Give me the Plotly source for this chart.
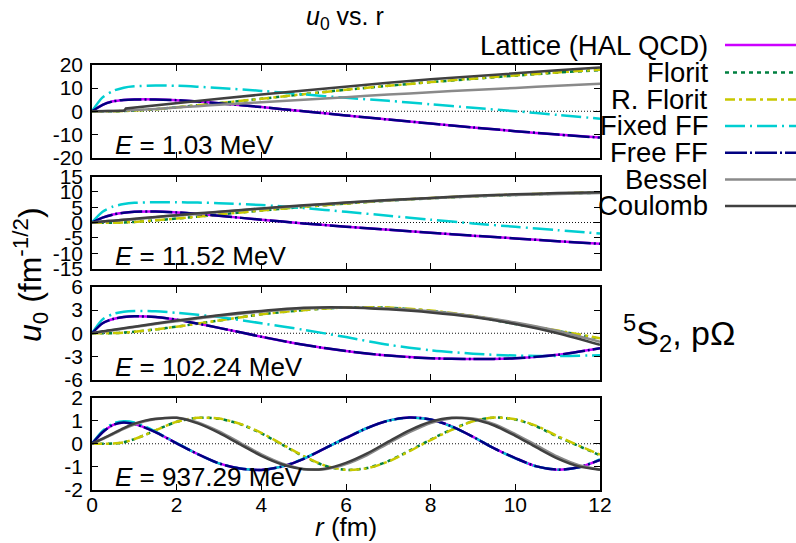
import plotly.graph_objects as go

# ---------------------------------------------------------------- data
# radial grids (fm)
r_main = [0, 0.25, 0.5, 0.75, 1, 1.5, 2, 2.5, 3, 4, 5, 6, 7, 8, 9, 10, 11, 12]
r_fine = [0, 0.25, 0.5, 0.75, 1, 1.25, 1.5, 2, 2.5, 3, 3.5, 4, 4.5, 5, 5.5, 6,
          6.5, 7, 7.5, 8, 8.5, 9, 9.5, 10, 10.5, 11, 11.5, 12]
r_coul_low = [0, 0.5, 0.76, 0.8, 1, 1.5, 2, 2.5, 3, 4, 5, 6, 7, 8, 9, 10, 11, 12]

energies = ["1.03", "11.52", "102.24", "937.29"]
series_names = ["Lattice (HAL QCD)", "Florit", "R. Florit", "Fixed FF",
                "Free FF", "Bessel", "Coulomb"]

# E = 1.03 MeV
lattice_1 = [0, 2.8, 4.3, 4.9, 5.1, 5.1, 4.8, 4.2, 3.5, 1.8, 0.0, -1.8, -3.6, -5.3, -7.0, -8.6, -10.1, -11.4]
florit_1 = [0, 0.0, 0.02, 0.1, 0.3, 0.9, 1.7, 2.6, 3.5, 5.4, 7.4, 9.3, 11.0, 12.6, 14.0, 15.4, 16.7, 17.8]
rflorit_1 = [0, 0.0, 0.02, 0.1, 0.3, 0.9, 1.7, 2.6, 3.5, 5.4, 7.4, 9.3, 11.0, 12.6, 14.1, 15.5, 16.8, 18.0]
fixed_ff_1 = [0, 6.0, 8.8, 10.2, 10.8, 11.1, 11.0, 10.6, 10.1, 8.8, 7.3, 5.8, 4.5, 3.0, 1.5, 0.0, -1.6, -3.2]
free_ff_1 = [0, 2.8, 4.3, 4.9, 5.1, 5.1, 4.8, 4.2, 3.5, 1.8, 0.0, -1.8, -3.6, -5.3, -7.0, -8.6, -10.1, -11.4]
bessel_1 = [0, 0.05, 0.15, 0.3, 0.5, 1.0, 1.6, 2.2, 2.8, 3.9, 5.0, 6.1, 7.2, 8.2, 9.2, 10.1, 11.0, 11.9]
coulomb_1 = [0, 0.1, 0.2, 1.2, 1.6, 2.55, 3.5, 4.45, 5.4, 7.2, 9.0, 10.7, 12.3, 13.8, 15.2, 16.5, 17.7, 18.9]

# E = 11.52 MeV
lattice_2 = [0, 1.6, 2.6, 3.2, 3.5, 3.6, 3.3, 2.8, 2.2, 0.9, -0.3, -1.35, -2.35, -3.35, -4.3, -5.2, -6.1, -6.95]
florit_2 = [0, -0.05, -0.1, 0.0, 0.2, 0.7, 1.3, 1.9, 2.6, 3.9, 5.1, 6.2, 7.1, 7.9, 8.5, 9.0, 9.4, 9.7]
rflorit_2 = [0, -0.05, -0.1, 0.0, 0.2, 0.7, 1.3, 1.9, 2.6, 3.9, 5.1, 6.2, 7.2, 8.0, 8.6, 9.1, 9.5, 9.8]
fixed_ff_2 = [0, 3.5, 5.2, 6.0, 6.4, 6.6, 6.6, 6.5, 6.3, 5.7, 4.7, 3.5, 2.2, 0.9, -0.3, -1.4, -2.5, -3.6]
free_ff_2 = [0, 1.6, 2.6, 3.2, 3.5, 3.6, 3.3, 2.8, 2.2, 0.9, -0.3, -1.35, -2.35, -3.35, -4.3, -5.2, -6.1, -6.95]
bessel_2 = [0, 0.3, 0.6, 0.9, 1.1, 1.7, 2.3, 2.8, 3.4, 4.5, 5.5, 6.4, 7.2, 7.9, 8.5, 9.0, 9.3, 9.6]
coulomb_2 = [0, 0.3, 0.6, 0.9, 1.2, 1.8, 2.4, 3.0, 3.5, 4.6, 5.6, 6.5, 7.3, 8.0, 8.7, 9.2, 9.6, 9.9]

# E = 102.24 MeV
lattice_3 = [0, 1.3, 1.85, 2.1, 2.2, 2.1, 1.75, 1.25, 0.7, -0.45, -1.5, -2.3, -2.9, -3.25, -3.35, -3.25, -2.8, -1.95]
florit_3 = [0, 0.0, 0.02, 0.08, 0.2, 0.5, 0.85, 1.25, 1.65, 2.45, 3.0, 3.35, 3.3, 2.9, 2.2, 1.2, 0.3, -0.7]
rflorit_3 = [0, 0.0, 0.02, 0.08, 0.2, 0.5, 0.85, 1.25, 1.65, 2.45, 3.0, 3.35, 3.35, 2.95, 2.25, 1.3, 0.35, -0.65]
fixed_ff_3 = [0, 1.8, 2.5, 2.8, 2.9, 2.85, 2.65, 2.4, 2.1, 1.3, 0.45, -0.5, -1.5, -2.2, -2.65, -2.9, -2.95, -2.85]
free_ff_3 = [0, 1.3, 1.85, 2.1, 2.2, 2.1, 1.75, 1.25, 0.7, -0.45, -1.5, -2.3, -2.9, -3.25, -3.35, -3.25, -2.8, -1.95]
bessel_3 = [0, 0.2, 0.4, 0.6, 0.8, 1.2, 1.55, 1.9, 2.25, 2.8, 3.2, 3.35, 3.2, 2.85, 2.25, 1.4, 0.3, -1.1]
coulomb_3 = [0, 0.25, 0.45, 0.65, 0.85, 1.25, 1.65, 2.0, 2.35, 2.9, 3.3, 3.35, 3.1, 2.7, 2.1, 1.2, 0.0, -1.5]

# E = 937.29 MeV
lattice_4 = [0, 0.5, 0.82, 0.92, 0.85, 0.7, 0.5, 0.02, -0.45, -0.85, -1.07, -1.13, -0.98, -0.65,
             -0.2, 0.25, 0.68, 1.0, 1.13, 1.05, 0.75, 0.3, -0.2, -0.62, -0.98, -1.12, -1.02, -0.7]
florit_4 = [0, 0.0, 0.01, 0.06, 0.2, 0.38, 0.58, 0.95, 1.12, 1.08, 0.85, 0.45, -0.05, -0.55,
            -0.95, -1.13, -1.05, -0.75, -0.3, 0.18, 0.62, 0.98, 1.13, 1.05, 0.75, 0.3, -0.1, -0.5]
rflorit_4 = [0, 0.0, 0.01, 0.06, 0.2, 0.38, 0.58, 0.95, 1.12, 1.09, 0.86, 0.47, -0.03, -0.53,
             -0.94, -1.13, -1.06, -0.77, -0.32, 0.16, 0.6, 0.97, 1.13, 1.06, 0.77, 0.33, -0.08, -0.47]
fixed_ff_4 = [0, 0.55, 0.88, 0.97, 0.92, 0.75, 0.52, 0.03, -0.45, -0.85, -1.07, -1.13, -0.98, -0.64,
              -0.2, 0.26, 0.68, 1.0, 1.13, 1.05, 0.74, 0.3, -0.2, -0.63, -0.98, -1.12, -1.02, -0.68]
free_ff_4 = [0, 0.5, 0.82, 0.92, 0.85, 0.7, 0.5, 0.02, -0.45, -0.85, -1.07, -1.13, -0.98, -0.65,
             -0.2, 0.25, 0.68, 1.0, 1.13, 1.05, 0.75, 0.3, -0.2, -0.62, -0.98, -1.12, -1.02, -0.7]
bessel_4 = [0, 0.2, 0.42, 0.64, 0.83, 0.97, 1.06, 1.12, 0.92, 0.53, 0.04, -0.46, -0.86, -1.09,
            -1.1, -0.88, -0.49, 0.02, 0.5, 0.9, 1.1, 1.09, 0.85, 0.42, -0.07, -0.56, -0.93, -1.11]
coulomb_4 = [0, 0.22, 0.45, 0.68, 0.87, 1.0, 1.08, 1.12, 0.88, 0.47, -0.03, -0.52, -0.9, -1.1,
             -1.08, -0.83, -0.42, 0.09, 0.58, 0.95, 1.12, 1.06, 0.79, 0.34, -0.16, -0.64, -0.98, -1.12]

y_ranges = [[-20, 20], [-15, 15], [-6, 6], [-2, 2]]
y_ticks = [[-20, -10, 0, 10, 20], [-15, -10, -5, 0, 5, 10, 15], [-6, -3, 0, 3, 6], [-2, -1, 0, 1, 2]]
x_ticks = [0, 2, 4, 6, 8, 10, 12]

# ---------------------------------------------------------------- styles
FONT = "Liberation Sans, Arial, sans-serif"
W, H = 796, 543
styles = [
    dict(color="#cc00ff", dash="solid"),                 # Lattice
    dict(color="#008040", dash="4px,4px"),               # Florit
    dict(color="#c8c800", dash="10px,4px,3px,4px"),      # R. Florit
    dict(color="#00ced1", dash="20px,5px,2px,5px"),      # Fixed FF
    dict(color="#000080", dash="22px,3px,2px,3px"),      # Free FF
    dict(color="#8a8a8a", dash="solid"),                 # Bessel
    dict(color="#404040", dash="solid"),                 # Coulomb
]
LW = 2.5

panels = [
    (r_main, [lattice_1, florit_1, rflorit_1, fixed_ff_1, free_ff_1, bessel_1, coulomb_1]),
    (r_main, [lattice_2, florit_2, rflorit_2, fixed_ff_2, free_ff_2, bessel_2, coulomb_2]),
    (r_main, [lattice_3, florit_3, rflorit_3, fixed_ff_3, free_ff_3, bessel_3, coulomb_3]),
    (r_fine, [lattice_4, florit_4, rflorit_4, fixed_ff_4, free_ff_4, bessel_4, coulomb_4]),
]

# panel frames in pixels (top, bottom) and shared horizontal extent
px_left, px_right = 92, 600
px_rows = [(65, 157.5), (176.5, 268.5), (287, 379.5), (397.5, 490)]


def tick_text(vals):
    # plain hyphen-minus for negative numbers
    return [str(v) for v in vals]


fig = go.Figure()

for i, (rgrid, curves) in enumerate(panels):
    n = i + 1
    xa = "x" if n == 1 else f"x{n}"
    ya = "y" if n == 1 else f"y{n}"
    # dotted zero reference
    fig.add_trace(go.Scatter(x=[0, 12], y=[0, 0], mode="lines", xaxis=xa, yaxis=ya,
                             line=dict(color="#111111", width=1, dash="1px,2px"),
                             showlegend=False, hoverinfo="skip"))
    for k, (vals, st) in enumerate(zip(curves, styles)):
        xs = rgrid
        shape = "spline"
        if i == 0 and k == 6:
            xs = r_coul_low
            shape = "linear"
        fig.add_trace(go.Scatter(x=xs, y=vals, mode="lines", xaxis=xa, yaxis=ya,
                                 name=series_names[k], showlegend=False,
                                 line=dict(color=st["color"], width=LW, dash=st["dash"],
                                           shape=shape, smoothing=0.8)))

layout = dict(
    width=W, height=H, autosize=False,
    margin=dict(l=0, r=0, t=0, b=0, pad=0),
    paper_bgcolor="white", plot_bgcolor="white",
    font=dict(family=FONT, color="black"),
    showlegend=False,
)

axis_common = dict(showline=True, linecolor="black", linewidth=1.5, mirror="ticks",
                   ticks="inside", ticklen=6, tickwidth=1.2, tickcolor="black",
                   showgrid=False, zeroline=False, automargin=False,
                   tickfont=dict(family=FONT, size=21, color="black"))

for i in range(4):
    n = i + 1
    top, bot = px_rows[i]
    xkey = "xaxis" if n == 1 else f"xaxis{n}"
    ykey = "yaxis" if n == 1 else f"yaxis{n}"
    layout[xkey] = dict(axis_common, domain=[px_left / W, px_right / W],
                        anchor="y" if n == 1 else f"y{n}",
                        range=[0, 12], tickvals=x_ticks, ticktext=tick_text(x_ticks),
                        showticklabels=(n == 4), ticklabelstandoff=-5)
    layout[ykey] = dict(axis_common, domain=[1 - bot / H, 1 - top / H],
                        anchor="x" if n == 1 else f"x{n}",
                        range=y_ranges[i], tickvals=y_ticks[i],
                        ticktext=tick_text(y_ticks[i]), ticklabelstandoff=3)

fig.update_layout(**layout)

annotations = []
# energy labels inside each panel
for i, e in enumerate(energies):
    n = i + 1
    annotations.append(dict(
        text=f"<i>E</i> = {e} MeV", xref=("x" if n == 1 else f"x{n}") + " domain",
        yref=("y" if n == 1 else f"y{n}") + " domain", x=0.042, y=-0.045,
        xanchor="left", yanchor="bottom", showarrow=False,
        font=dict(family=FONT, size=26, color="black")))

# title and axis titles
annotations.append(dict(text="<i>u</i><sub>0</sub> vs. r", xref="paper", yref="paper",
                        x=345 / W, y=1 - 18 / H, xanchor="center", yanchor="middle",
                        showarrow=False, font=dict(family=FONT, size=25)))
annotations.append(dict(text="<i>r</i> (fm)", xref="paper", yref="paper",
                        x=346 / W, y=1 - 527 / H, xanchor="center", yanchor="middle",
                        showarrow=False, font=dict(family=FONT, size=26)))
annotations.append(dict(text="<i>u</i><sub>0</sub> (fm<sup>-1/2</sup>)", xref="paper", yref="paper",
                        x=30 / W, y=1 - 275 / H, xanchor="center", yanchor="middle",
                        textangle=-90, showarrow=False, font=dict(family=FONT, size=32)))
annotations.append(dict(text="<sup>5</sup>S<sub>2</sub>, pΩ", xref="paper", yref="paper",
                        x=621 / W, y=1 - 333 / H, xanchor="left", yanchor="middle",
                        showarrow=False, font=dict(family=FONT, size=34)))

# key: right-aligned names with line samples
key_rows = [45, 72.5, 99.5, 126, 152.7, 179.5, 206]
shapes = []
for name, st, yy in zip(series_names, styles, key_rows):
    annotations.append(dict(text=name, xref="paper", yref="paper", x=710 / W, y=1 - yy / H,
                            xanchor="right", yanchor="middle", showarrow=False,
                            font=dict(family=FONT, size=27.5, color="black")))
    shapes.append(dict(type="line", xref="paper", yref="paper", x0=725 / W, x1=1.02,
                       y0=1 - yy / H, y1=1 - yy / H,
                       line=dict(color=st["color"], width=LW, dash=st["dash"])))

fig.update_layout(annotations=annotations, shapes=shapes)
fig.write_html("out.html")
